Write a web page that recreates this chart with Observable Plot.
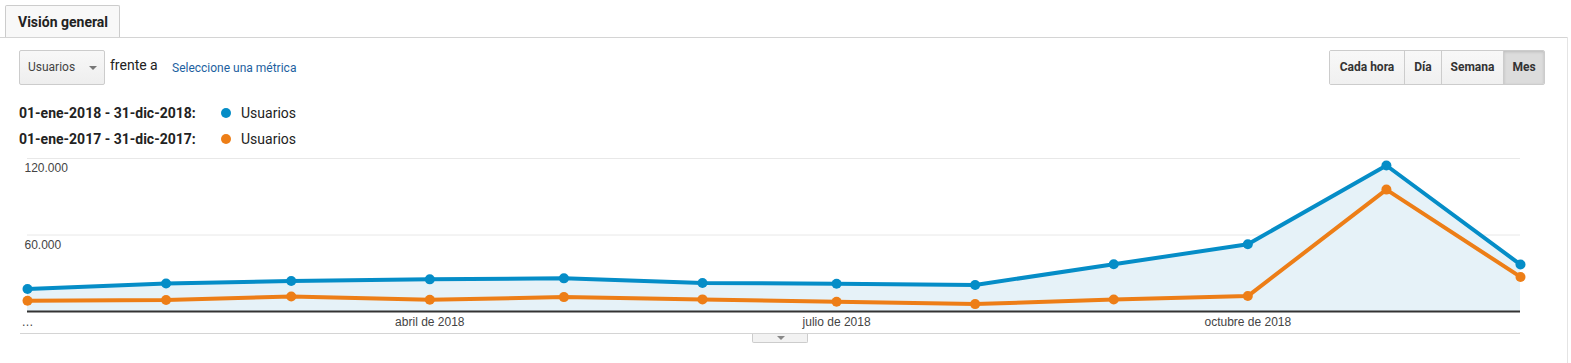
<!DOCTYPE html>
<html>
<head>
<meta charset="utf-8">
<script src="https://cdn.jsdelivr.net/npm/d3@7"></script>
<script src="https://cdn.jsdelivr.net/npm/@observablehq/plot@0.6"></script>
<style>
  html, body { margin: 0; padding: 0; background: #fff; }
  body { width: 1571px; height: 363px; position: relative; overflow: hidden; font-family: Roboto, Arial, sans-serif; color: #222; }
  .abs { position: absolute; }
  #tab { left: 5px; top: 5px; width: 115px; height: 32px; border: 1px solid #ccc; border-bottom: none; background: #f8f8f8; border-radius: 2px 2px 0 0; box-sizing: border-box; font-weight: bold; font-size: 14px; line-height: 32px; padding-left: 12px; color: #222; }
  #topline { left: 0; top: 37px; width: 1568px; height: 1px; background: #d4d4d4; }
  #rightline { left: 1567px; top: 37px; width: 1px; height: 326px; background: #e4e4e4; }
  #dropdown { left: 19px; top: 50px; width: 86px; height: 35px; border: 1px solid #ccc; border-radius: 2px; box-sizing: border-box; background: linear-gradient(#f8f8f8, #eeeeee); font-size: 12px; color: #444; line-height: 33px; padding-left: 8px; }
  #dropdown .arr { position: absolute; left: 69px; top: 15px; width: 0; height: 0; border-left: 4px solid transparent; border-right: 4px solid transparent; border-top: 4px solid #777; }
  #frente { left: 110px; top: 57px; font-size: 14px; color: #222; }
  #metric { left: 172px; top: 61px; font-size: 12px; color: #1d5fa0; }
  #btns { left: 1329px; top: 50px; height: 35px; display: flex; border: 1px solid #ccc; border-radius: 2px; box-sizing: border-box; overflow: hidden; }
  #btns div { font-size: 12px; font-weight: bold; color: #333; line-height: 33px; text-align: center; background: linear-gradient(#f8f8f8, #f0f0f0); border-left: 1px solid #ccc; box-sizing: border-box; }
  #btns div:first-child { border-left: none; }
  #btns div.active { background: #dcdcdc; box-shadow: inset 0 1px 3px rgba(0,0,0,0.15); }
  .leg { left: 19px; font-size: 14px; display: flex; align-items: center; }
  .leg b { display: inline-block; width: 202px; color: #222; }
  .leg .dot { display: inline-block; width: 10px; height: 10px; border-radius: 50%; margin-right: 10px; }
  #bottomline { left: 20px; top: 333px; width: 1500px; height: 1px; background: #d4d4d4; }
  #expand { left: 752px; top: 334px; width: 56px; height: 9px; border: 1px solid #ccc; border-top: none; background: #f2f2f2; box-sizing: border-box; border-radius: 0 0 2px 2px; }
  #expand .arr { position: absolute; left: 24px; top: 2px; width: 0; height: 0; border-left: 4px solid transparent; border-right: 4px solid transparent; border-top: 4px solid #888; }
  #chart { left: 0; top: 150px; }
</style>
</head>
<body>
<div id="tab" class="abs">Visión general</div>
<div id="topline" class="abs"></div>
<div id="rightline" class="abs"></div>
<div id="dropdown" class="abs">Usuarios<span class="arr"></span></div>
<div id="frente" class="abs">frente a</div>
<div id="metric" class="abs">Seleccione una métrica</div>
<div id="btns" class="abs"><div style="width:74px">Cada hora</div><div style="width:37px">Día</div><div style="width:62px">Semana</div><div class="active" style="width:41px">Mes</div></div>
<div class="abs leg" style="top:105px"><b>01-ene-2018 - 31-dic-2018:</b><span class="dot" style="background:#058dc7"></span><span>Usuarios</span></div>
<div class="abs leg" style="top:131px"><b>01-ene-2017 - 31-dic-2017:</b><span class="dot" style="background:#ed7e17"></span><span>Usuarios</span></div>
<div id="chart" class="abs"></div>
<div id="bottomline" class="abs"></div>
<div id="expand" class="abs"><span class="arr"></span></div>
<script>
const months = ["2018-01-01","2018-02-01","2018-03-01","2018-04-01","2018-05-01","2018-06-01","2018-07-01","2018-08-01","2018-09-01","2018-10-01","2018-11-01","2018-12-01"];
const usuarios2018 = [17600, 22000, 23900, 25200, 26000, 22400, 21800, 20800, 37000, 52800, 114500, 36800];
const usuarios2017 = [8400, 9000, 11800, 9200, 11300, 9500, 7600, 5800, 9400, 12100, 95600, 27100];
const xTickDates = ["2018-01-01","2018-04-01","2018-07-01","2018-10-01"];
const xTickLabels = ["…", "abril de 2018", "julio de 2018", "octubre de 2018"];
const yTicks = [60000, 120000];
const yTickLabels = ["60.000", "120.000"];

const blue = "#058dc7", orange = "#ed7e17";
const d2018 = months.map((m, i) => ({date: new Date(m + "T00:00:00"), value: usuarios2018[i]}));
const d2017 = months.map((m, i) => ({date: new Date(m + "T00:00:00"), value: usuarios2017[i]}));
const tickDates = xTickDates.map(s => new Date(s + "T00:00:00"));
const labelFor = new Map(tickDates.map((d, i) => [+d, xTickLabels[i]]));
const yLabelFor = new Map(yTicks.map((v, i) => [v, yTickLabels[i]]));

const chart = Plot.plot({
  width: 1571,
  height: 190,
  marginLeft: 27,
  marginRight: 51,
  marginTop: 8,
  marginBottom: 29,
  style: {fontFamily: "Arial, 'Liberation Sans', sans-serif", fontSize: "12px", color: "#444", background: "transparent", overflow: "visible"},
  x: {type: "time", domain: [d2018[0].date, d2018[11].date]},
  y: {domain: [0, 120000]},
  marks: [
    Plot.gridY(yTicks, {stroke: "#e8e8e8", strokeOpacity: 1}),
    Plot.areaY(d2018, {x: "date", y: "value", fill: "#e6f2f8", fillOpacity: 1}),
    Plot.ruleY([0], {stroke: "#333", strokeWidth: 2}),
    Plot.axisY(yTicks, {anchor: "left", label: null, tickSize: 0, textAnchor: "start", dx: 6, dy: 10, frameAnchor: "left", tickFormat: v => yLabelFor.get(v), fill: "#444", fontSize: 12}),
    Plot.axisX(tickDates, {label: null, tickSize: 0, tickPadding: 6, tickFormat: d => labelFor.get(+d), fill: "#444", fontSize: 12}),
    Plot.line(d2017, {x: "date", y: "value", stroke: orange, strokeWidth: 4}),
    Plot.dot(d2017, {x: "date", y: "value", fill: orange, r: 5}),
    Plot.line(d2018, {x: "date", y: "value", stroke: blue, strokeWidth: 4}),
    Plot.dot(d2018, {x: "date", y: "value", fill: blue, r: 5})
  ]
});
document.getElementById("chart").appendChild(chart);
</script>
</body>
</html>
